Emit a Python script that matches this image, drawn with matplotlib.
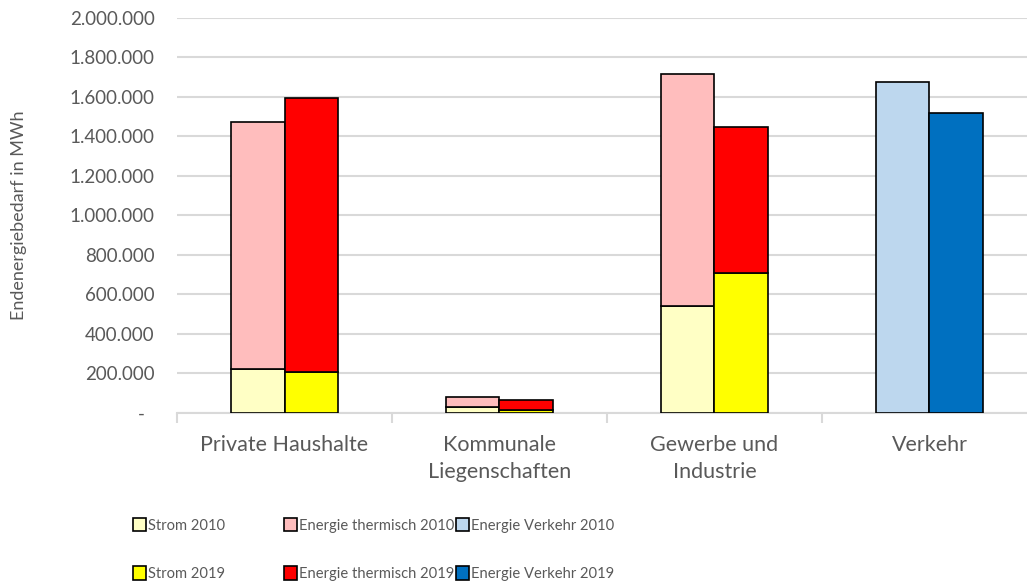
import matplotlib.pyplot as plt
import matplotlib.ticker as mticker
from matplotlib.patches import Patch
import numpy as np

plt.rcParams['font.family'] = ['Lato', 'DejaVu Sans']

categories = ["Private Haushalte", "Kommunale\nLiegenschaften", "Gewerbe und\nIndustrie", "Verkehr"]

# values in MWh
strom_2010 = [220000, 27000, 540000, 0]
thermisch_2010 = [1253000, 54000, 1175000, 0]
verkehr_2010 = [0, 0, 0, 1676000]

strom_2019 = [205000, 15000, 707000, 0]
thermisch_2019 = [1387000, 49000, 740000, 0]
verkehr_2019 = [0, 0, 0, 1519000]

labels = ["Strom 2010", "Strom 2019",
          "Energie thermisch 2010", "Energie thermisch 2019",
          "Energie Verkehr 2010", "Energie Verkehr 2019"]
colors = {"Strom 2010": "#FFFFC5", "Strom 2019": "#FFFF00",
          "Energie thermisch 2010": "#FFBDBD", "Energie thermisch 2019": "#FF0000",
          "Energie Verkehr 2010": "#BDD7EE", "Energie Verkehr 2019": "#0070C0"}

grey = "#595959"

fig = plt.figure(figsize=(10.27, 5.85), dpi=100)
ax = fig.add_axes([177 / 1027, 1 - 412.7 / 585, 860 / 1027, (412.7 - 17.7) / 585])

x = np.arange(len(categories))
w = 0.25
ec = dict(edgecolor="black", linewidth=1.2, zorder=3)

def stack(pos, series, names):
    bottom = np.zeros(len(categories))
    for vals, name in zip(series, names):
        vals = np.array(vals, dtype=float)
        mask = vals > 0
        ax.bar(pos[mask], vals[mask], w, bottom=bottom[mask], color=colors[name], **ec)
        bottom += vals

stack(x - w / 2, [strom_2010, thermisch_2010, verkehr_2010],
      ["Strom 2010", "Energie thermisch 2010", "Energie Verkehr 2010"])
stack(x + w / 2, [strom_2019, thermisch_2019, verkehr_2019],
      ["Strom 2019", "Energie thermisch 2019", "Energie Verkehr 2019"])

ax.set_xlim(-0.5, len(categories) - 0.5)
ax.set_ylim(0, 2000000)
ax.yaxis.set_major_locator(mticker.MultipleLocator(200000))

def de_fmt(v, pos):
    if v == 0:
        return "-  "
    return f"{int(v):,}".replace(",", ".")

ax.yaxis.set_major_formatter(mticker.FuncFormatter(de_fmt))
ax.grid(axis="y", color="#D9D9D9", linewidth=1.5, zorder=0)
ax.set_axisbelow(True)

for s in ["top", "right", "left"]:
    ax.spines[s].set_visible(False)
ax.spines["bottom"].set_color("#D9D9D9")
ax.spines["bottom"].set_linewidth(1.5)

ax.tick_params(axis="y", length=0, labelsize=13.5, labelcolor=grey, pad=16)
ax.set_xticks(np.arange(-0.5, len(categories)), minor=False)
ax.set_xticklabels([])
ax.tick_params(axis="x", which="major", length=7, color="#D9D9D9", width=1.5)
ax.set_xticks(x, minor=True)
ax.set_xticklabels(categories, minor=True, fontsize=15.5, color=grey, linespacing=1.45)
ax.tick_params(axis="x", which="minor", length=0, pad=16)

ax.set_ylabel("Endenergiebedarf in MWh", fontsize=13, color=grey)
ax.yaxis.set_label_coords(-150 / 860, 0.5)

# legend: three columns with fixed positions
col_x = [133, 284, 456]
for i, cx in enumerate(col_x):
    handles = [Patch(facecolor=colors[labels[2 * i + k]], edgecolor="black", linewidth=1.2)
               for k in range(2)]
    fig.legend(handles, labels[2 * i:2 * i + 2], loc="upper left",
               bbox_to_anchor=(cx / 1027, 1 - 518 / 585), frameon=False,
               fontsize=10.6, labelcolor=grey, handlelength=0.85, handleheight=1.0,
               handletextpad=0.2, labelspacing=2.3, borderaxespad=0, borderpad=0)

fig.savefig("out.png", dpi=100)
